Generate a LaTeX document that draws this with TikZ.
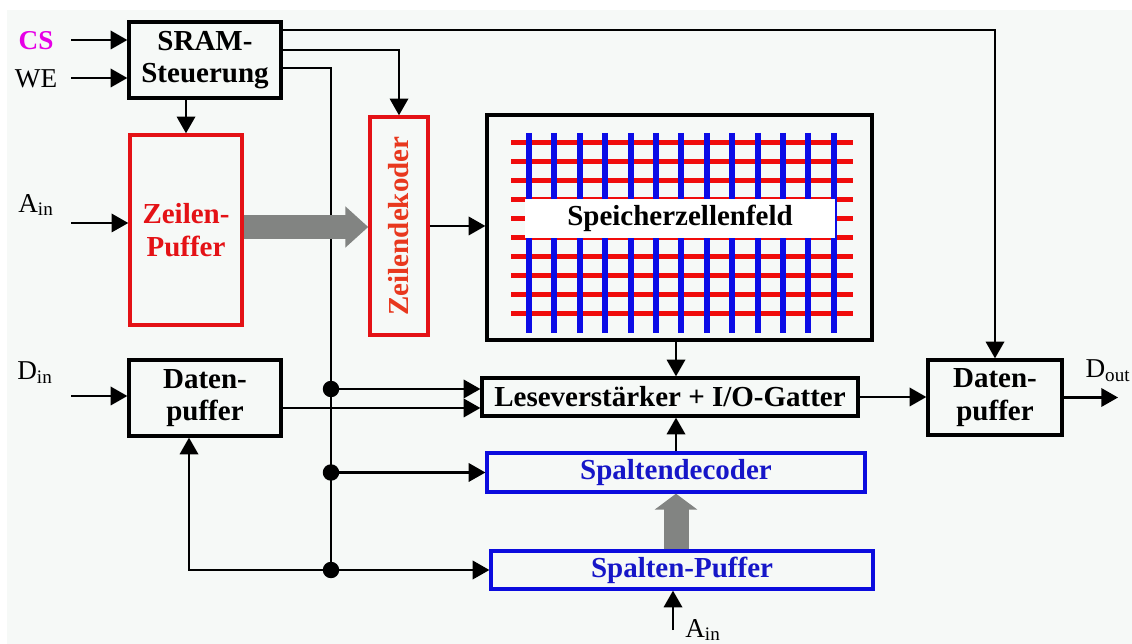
\documentclass[tikz,border=0pt]{standalone}
\usepackage{fontspec}
\setmainfont{Liberation Serif}
\usepackage{tikz}
\usetikzlibrary{arrows.meta, positioning, calc}

\definecolor{bgcol}{RGB}{246,249,247}
\definecolor{csmag}{RGB}{230,0,230}
\definecolor{zrot}{RGB}{228,18,22}
\definecolor{zdekrot}{RGB}{232,56,30}
\definecolor{sblau}{RGB}{12,12,222}
\definecolor{stxtblau}{RGB}{22,22,200}
\definecolor{gridrot}{RGB}{240,12,12}
\definecolor{gridblau}{RGB}{12,12,230}
\definecolor{fatgrau}{RGB}{130,132,130}

\begin{document}
\begin{tikzpicture}[
    x=0.02cm, y=-0.02cm,
    >={Triangle[length=9.5pt,width=10.5pt]},
    every node/.style={font=\fontsize{16.5}{18.5}\selectfont},
    blk/.style={rectangle, draw=black, line width=1.9pt, inner sep=0pt, align=center, font=\fontsize{16.5}{18.5}\selectfont\bfseries},
    blkRot/.style={rectangle, draw=zrot, line width=2pt, inner sep=0pt, align=center, text=zrot, font=\fontsize{16.5}{18.5}\selectfont\bfseries},
    blkBlau/.style={rectangle, draw=sblau, line width=1.9pt, inner sep=0pt, align=center, text=stxtblau, font=\fontsize{16.5}{18.5}\selectfont\bfseries},
    sigtxt/.style={inner sep=0pt, font=\fontsize{15.5}{18}\selectfont},
    sig/.style={->, line width=1.2pt},
    sigline/.style={line width=1.2pt},
    fatarrow/.style={draw=fatgrau},
    dot/.style={fill=black}
]
% ============== Hintergrund ==============
\useasboundingbox (0,0) rectangle (1132,644);
\fill[bgcol] (7,10) rectangle (1132,644);

% ============== Steuerung / Zeilen ==============
\node[blk, minimum width=3.04cm, minimum height=1.52cm] (ctrl) at (205,60) {SRAM-\\Steuerung};
\node[blkRot, minimum width=2.24cm, minimum height=3.8cm] (zpuf) at (186,230) {Zeilen-\\Puffer};
\node[blkRot, minimum width=1.16cm, minimum height=4.36cm, text=zdekrot] (zdec) at (399,226) {\rotatebox{90}{Zeilendekoder}};

% ============== Speicherzellenfeld ==============
\node[blk, minimum width=7.7cm, minimum height=4.5cm] (feld) at (679.5,227.5) {};
\foreach \r in {0,...,9}
  \draw[gridrot, line width=0.1cm] (511,{143+19*\r}) -- (853,{143+19*\r});
\foreach \c in {0,...,12}
  \draw[gridblau, line width=0.12cm] ({529+25.4*\c},133) -- ({529+25.4*\c},333);
\node[blk, draw=none, fill=white, minimum width=6.2cm, minimum height=0.78cm] (feldtxt) at (680,218.5) {Speicherzellenfeld};

% ============== Daten / Spalten ==============
\node[blk, minimum width=3.04cm, minimum height=1.52cm] (dpufL) at (205,398) {Daten-\\puffer};
\node[blk, minimum width=7.52cm, minimum height=0.76cm] (sa) at (670,397) {Leseverst\"arker + I/O-Gatter};
\node[blk, minimum width=2.68cm, minimum height=1.5cm] (dpufR) at (995,397.5) {Daten-\\puffer};
\node[blkBlau, minimum width=7.56cm, minimum height=0.78cm] (sdec) at (676,472.5) {Spaltendecoder};
\node[blkBlau, minimum width=7.64cm, minimum height=0.76cm] (spuf) at (682,570) {Spalten-Puffer};

% ============== Signale ==============
\node[sigtxt] (cs)    at (36,41)    {\textcolor{csmag}{\textbf{CS}}};
\node[sigtxt] (we)    at (36,79)    {WE};
\node[sigtxt] (ainl)  at (36,205)   {A\textsubscript{in}};
\node[sigtxt] (dinl)  at (35,373)   {D\textsubscript{in}};
\node[sigtxt] (doutl) at (1108,371) {D\textsubscript{out}};
\node[sigtxt] (ainbl) at (703,630)  {A\textsubscript{in}};

\coordinate (csin)  at (71,40);
\coordinate (wein)  at (71,78);
\coordinate (ain)   at (71,223);
\coordinate (din)   at (71,396);
\coordinate (dout)  at (1118,397);
\coordinate (ainb)  at (673,630);
\coordinate (b1)    at (331,389);
\coordinate (b2)    at (331,472.5);
\coordinate (b3)    at (331,570);

% ============== Eingaenge ==============
\draw[sig] (csin) -- (csin -| ctrl.west);
\draw[sig] (wein) -- (wein -| ctrl.west);
\draw[sig] (ain)  -- (ain -| zpuf.west);
\draw[sig] (din)  -- (din -| dpufL.west);
\draw[sig] (ainb) -- (ainb |- spuf.south);

% ============== Steuerleitungen ==============
\draw[sig] (ctrl.south -| zpuf.north) -- (zpuf.north);
\draw[sig] ([yshift=0.2cm]ctrl.east) -| (zdec.north);
\draw[sig] ([yshift=0.6cm]ctrl.east) -| (dpufR.north);
\draw[sigline] ([yshift=-0.16cm]ctrl.east) -| (b3);
\fill[dot] (b1) circle (0.165cm);
\fill[dot] (b2) circle (0.165cm);
\fill[dot] (b3) circle (0.165cm);
\draw[sig] (b1) -- (b1 -| sa.west);
\draw[sig] (b2) -- (b2 -| sdec.west);
\draw[sig] (b3) -- (b3 -| spuf.west);
\draw[sig] (b3) -| ([xshift=-0.32cm]dpufL.south);

% ============== Datenpfad ==============
\draw[sig] (zdec.east) -- (zdec.east -| feld.west);
\draw[sig] (feld.south -| sdec.north) -- (sa.north -| sdec.north);
\draw[sig] (sdec.north) -- (sdec.north |- sa.south);
\draw[sig] ([yshift=-0.2cm]dpufL.east) -- ([yshift=-0.2cm]dpufL.east -| sa.west);
\draw[sig] (sa.east) -- (sa.east -| dpufR.west);
\draw[sig] (dpufR.east) -- (dpufR.east -| dout);

% ============== Adressbusse (breit) ==============
\draw[fatarrow, line width=0.48cm, -{Triangle[length=0.46cm,width=0.8cm]}] ([yshift=0.06cm]zpuf.east) -- ([yshift=0.06cm]zpuf.east -| zdec.west);
\draw[fatarrow, line width=0.5cm, -{Triangle[length=0.32cm,width=0.84cm]}] (spuf.north -| sdec.south) -- (sdec.south);
\end{tikzpicture}
\end{document}
